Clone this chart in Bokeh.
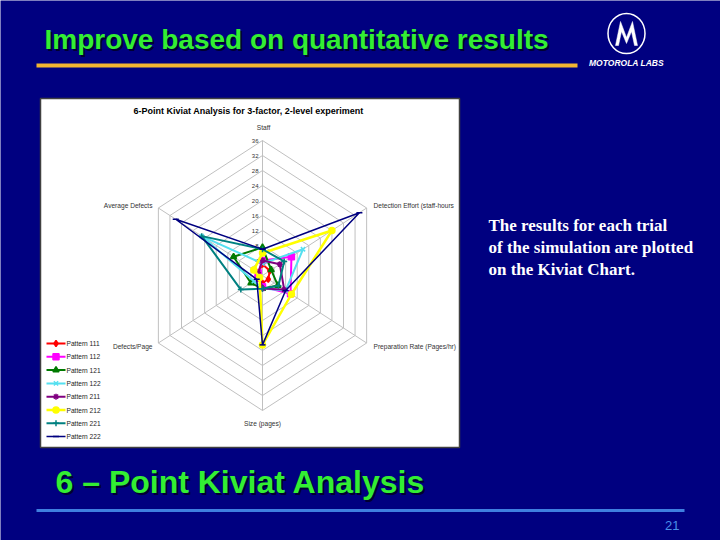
import math
from bokeh.plotting import figure
from bokeh.models import Range1d
from bokeh.embed import file_html
from bokeh.resources import INLINE
from bokeh.core.properties import value

# ---------------- data ----------------
axes_labels = ["Staff", "Detection Effort (staff-hours", "Preparation Rate (Pages/hr)",
               "Size (pages)", "Defects/Page", "Average Defects"]
ticks = [0, 4, 8, 12, 16, 20, 24, 28, 32, 36]
patterns = ["Pattern 111", "Pattern 112", "Pattern 121", "Pattern 122",
            "Pattern 211", "Pattern 212", "Pattern 221", "Pattern 222"]
p111 = [3, 2.5, 2, 2, 1, 1.5]
p112 = [4, 10, 9.7, 3, 1.5, 1.5]
p121 = [7.5, 3, 5.3, 3.5, 4, 10]
p122 = [3.2, 14, 8, 3.5, 3, 21]
p211 = [4, 6, 7.5, 3.5, 1, 1.5]
p212 = [6, 24, 10, 18.5, 1, 3]
p221 = [7, 7.5, 5.5, 3.5, 7.5, 21]
p222 = [7, 33.5, 8, 18.5, 2, 30]
series = [p111, p112, p121, p122, p211, p212, p221, p222]

colors = ["#FF0000", "#FF00FF", "#007A00", "#55E0F0", "#800080", "#FFFF00", "#008080", "#000080"]
markers = ["diamond", "square", "triangle", "x", "asterisk", "circle", "cross", "dash"]
widths = [2, 2, 2, 2, 2, 2.5, 2, 1.5]

BG = "#000080"
GREEN = "#33EE33"
SANS = value("Liberation Sans")

p = figure(width=720, height=540, x_range=Range1d(0, 720), y_range=Range1d(540, 0),
           output_backend="svg", toolbar_location=None, min_border=0)
p.axis.visible = False
p.grid.visible = False
p.outline_line_color = None
p.background_fill_color = BG
p.border_fill_color = BG

# ---------------- slide decorations ----------------
title = "Improve based on quantitative results"
p.text(x=[46], y=[41], text=[title], text_color="#000030", text_font=SANS, text_font_style="bold",
       text_font_size="28px", text_baseline="middle")
p.text(x=[44], y=[39], text=[title], text_color=GREEN, text_font=SANS, text_font_style="bold",
       text_font_size="28px", text_baseline="middle")
p.line(x=[36, 577], y=[65, 65], line_color="#F2B531", line_width=4)

# Motorola logo
lx, ly = 626, 33
p.ellipse(x=[lx], y=[ly], width=37, height=40, fill_color=BG, line_color="white", line_width=1.5)
wing = [(-11, 12), (-6, -12), (0, 4), (6, -12), (11, 12), (8, 12), (5, -2), (0, 10), (-5, -2), (-8, 12)]
p.patch(x=[lx + a for a, b in wing], y=[ly + b for a, b in wing], fill_color="white", line_color="white",
        line_width=0.5)
p.text(x=[lx], y=[62], text=["MOTOROLA LABS"], text_color="white", text_font=SANS,
       text_font_style="bold italic", text_font_size="8.5px", text_align="center", text_baseline="middle")

# side text
for i, t in enumerate(["The results for each trial", "of the simulation are plotted", "on the Kiviat Chart."]):
    p.text(x=[488], y=[225 + 22 * i], text=[t], text_color="white", text_font=value("Liberation Serif"),
           text_font_size="17px", text_font_style="bold", text_baseline="middle")

# bottom
sub = "6 \u2013 Point Kiviat Analysis"
p.text(x=[57], y=[483], text=[sub], text_color="#000030", text_font=SANS, text_font_style="bold",
       text_font_size="32px", text_baseline="middle")
p.text(x=[55], y=[481], text=[sub], text_color=GREEN, text_font=SANS, text_font_style="bold",
       text_font_size="32px", text_baseline="middle")
p.line(x=[36, 684], y=[510, 510], line_color="#3F7FE0", line_width=3)
p.text(x=[679], y=[525], text=["21"], text_color="#4A90E8", text_font=SANS,
       text_font_size="13px", text_align="right", text_baseline="middle")

# ---------------- chart box ----------------
p.quad(left=[40], right=[459], top=[98], bottom=[447], fill_color="white", line_color="#404040", line_width=1.5)
p.text(x=[248], y=[110], text=["6-Point Kiviat Analysis for 3-factor, 2-level experiment"], text_color="black",
       text_font=SANS, text_font_style="bold", text_font_size="9px",
       text_align="center", text_baseline="middle")

cx, cy, kx, ky = 262, 275, 3.34, 3.75
angles = [math.radians(60 * i) for i in range(6)]


def to_xy(vals):
    xs = [cx + v * kx * math.sin(a) for v, a in zip(vals, angles)]
    ys = [cy - v * ky * math.cos(a) for v, a in zip(vals, angles)]
    return xs, ys


# grid rings
for t in ticks[1:]:
    xs, ys = to_xy([t] * 6)
    p.line(x=xs + xs[:1], y=ys + ys[:1], line_color="#C0C0C0", line_width=1)
# spokes
oxs, oys = to_xy([ticks[-1]] * 6)
p.multi_line(xs=[[cx, x] for x in oxs], ys=[[cy, y] for y in oys], line_color="#C0C0C0", line_width=1)

# tick labels
p.text(x=[cx - 4] * len(ticks), y=[cy - t * ky for t in ticks], text=[str(t) for t in ticks],
       text_color="#333333", text_font=SANS, text_font_size="6px",
       text_align="right", text_baseline="middle")

# axis labels
lab_pos = [(263, 127, "center"), (373, 205, "left"), (373, 346, "left"),
           (262, 423, "center"), (152, 346, "right"), (152, 205, "right")]
for (x, y, al), t in zip(lab_pos, axes_labels):
    p.text(x=[x], y=[y], text=[t], text_color="#333333", text_font=SANS,
           text_font_size="6.6px", text_align=al, text_baseline="middle")

# series
for vals, c, m, w in zip(series, colors, markers, widths):
    xs, ys = to_xy(vals)
    p.line(x=xs + xs[:1], y=ys + ys[:1], line_color=c, line_width=w)
    p.scatter(x=xs, y=ys, marker=m, size=6, fill_color=c, line_color=c, line_width=1.5)

# legend
for i, (name, c, m, w) in enumerate(zip(patterns, colors, markers, widths)):
    yy = 343 + 13.3 * i
    p.line(x=[46, 65], y=[yy, yy], line_color=c, line_width=w)
    p.scatter(x=[55.5], y=[yy], marker=m, size=6, fill_color=c, line_color=c, line_width=1.5)
    p.text(x=[66], y=[yy], text=[name], text_color="#222222", text_font=SANS,
           text_font_size="6.6px", text_baseline="middle")

html = file_html(p, INLINE)
html = html.replace("<body>", '<body style="background:#000080;">', 1)
open("out.html", "w").write(html)
